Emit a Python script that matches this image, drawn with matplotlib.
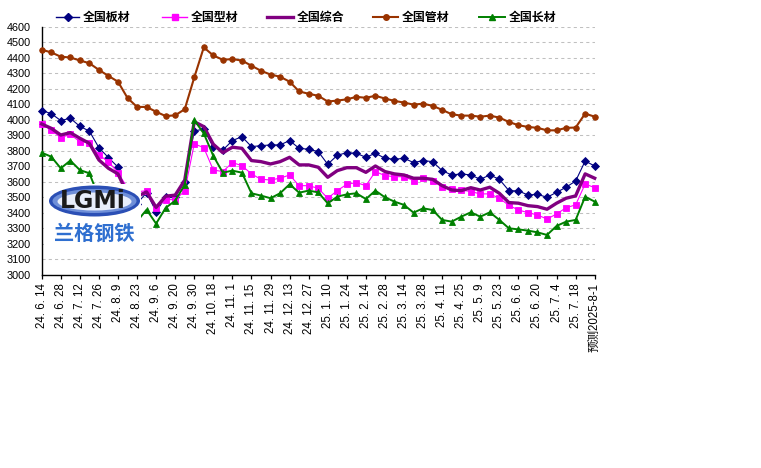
import matplotlib
matplotlib.use('Agg')
import matplotlib.pyplot as plt
import numpy as np
from matplotlib.patches import Ellipse, Rectangle

# ---------------- data ----------------
tick_labels = ['24. 6. 14', '24. 6. 28', '24. 7. 12', '24. 7. 26', '24. 8. 9', '24. 8. 23',
               '24. 9. 6', '24. 9. 20', '24. 9. 30', '24. 10. 18', '24. 11. 1', '24. 11. 15',
               '24. 11. 29', '24. 12. 13', '24. 12. 27', '25. 1. 10', '25. 1. 24', '25. 2. 14',
               '25. 2. 28', '25. 3. 14', '25. 3. 28', '25. 4. 11', '25. 4. 25', '25. 5. 9',
               '25. 5. 23', '25. 6. 6', '25. 6. 20', '25. 7. 4', '25. 7. 18', '预测2025-8-1']

board = [4060, 4040, 3995, 4010, 3958, 3927, 3820, 3756, 3695, 3480, 3460, 3530,
         3407, 3499, 3503, 3600, 3928, 3940, 3823, 3805, 3866, 3891, 3827, 3833,
         3838, 3838, 3866, 3816, 3810, 3795, 3713, 3771, 3788, 3784, 3758, 3784,
         3752, 3745, 3752, 3724, 3737, 3730, 3672, 3644, 3651, 3644, 3616, 3644,
         3616, 3543, 3541, 3515, 3519, 3500, 3532, 3565, 3605, 3734, 3702]

shape = [3973, 3934, 3885, 3906, 3859, 3853, 3773, 3730, 3659, 3560, 3535, 3543,
         3433, 3485, 3485, 3540, 3845, 3820, 3676, 3666, 3724, 3704, 3651, 3616,
         3612, 3623, 3644, 3575, 3575, 3558, 3494, 3543, 3584, 3595, 3575, 3666,
         3640, 3633, 3633, 3608, 3623, 3608, 3569, 3552, 3547, 3537, 3522, 3522,
         3494, 3448, 3418, 3401, 3386, 3360, 3392, 3433, 3451, 3586, 3562]

composite = [3973, 3945, 3902, 3917, 3881, 3848, 3741, 3687, 3651, 3520, 3505, 3535,
             3435, 3507, 3514, 3610, 3988, 3956, 3842, 3788, 3823, 3816, 3737, 3730,
             3715, 3730, 3758, 3709, 3709, 3694, 3629, 3672, 3691, 3691, 3661, 3702,
             3666, 3651, 3644, 3623, 3623, 3616, 3575, 3547, 3543, 3562, 3547, 3565,
             3526, 3466, 3462, 3446, 3440, 3423, 3462, 3494, 3509, 3651, 3623]

pipe = [4452, 4435, 4407, 4402, 4383, 4365, 4322, 4283, 4246, 4141, 4083, 4083,
        4052, 4024, 4029, 4068, 4273, 4467, 4415, 4387, 4392, 4382, 4349, 4316,
        4292, 4278, 4246, 4183, 4168, 4155, 4118, 4124, 4132, 4148, 4142, 4155,
        4137, 4122, 4111, 4098, 4104, 4090, 4064, 4036, 4027, 4027, 4020, 4027,
        4014, 3986, 3965, 3954, 3948, 3932, 3932, 3948, 3950, 4040, 4020]

long_ = [3788, 3762, 3687, 3737, 3676, 3655, 3500, 3440, 3390, 3365, 3345, 3420,
         3330, 3432, 3478, 3580, 3998, 3912, 3767, 3659, 3672, 3659, 3526, 3511,
         3494, 3526, 3584, 3530, 3543, 3532, 3461, 3504, 3519, 3526, 3489, 3543,
         3500, 3472, 3451, 3401, 3429, 3418, 3354, 3343, 3375, 3403, 3375, 3403,
         3354, 3300, 3293, 3285, 3274, 3257, 3315, 3343, 3354, 3504, 3472]

names = ['全国板材', '全国型材', '全国综合', '全国管材', '全国长材']

styles = [
    dict(color='#000080', lw=0.8, marker='D', ms=4.2),
    dict(color='#FF00FF', lw=0.8, marker='s', ms=4.6),
    dict(color='#800080', lw=2.4, marker=None, ms=0),
    dict(color='#993300', lw=1.5, marker='o', ms=4.0),
    dict(color='#008000', lw=1.4, marker='^', ms=5.0),
]
series = [board, shape, composite, pipe, long_]

# ---------------- figure ----------------
W, H = 761, 468
fig = plt.figure(figsize=(W / 100, H / 100), dpi=100)
fig.patch.set_facecolor('white')

ax_l, ax_r, ax_t, ax_b = 41.7, 594.7, 26.8, 274.8
ax = fig.add_axes([ax_l / W, 1 - ax_b / H, (ax_r - ax_l) / W, (ax_b - ax_t) / H])

x = np.arange(len(board))
for i, (vals, st) in enumerate(zip(series, styles)):
    ax.plot(x, vals, color=st['color'], lw=st['lw'], marker=st['marker'],
            ms=st['ms'], mfc=st['color'], mec=st['color'], mew=0.6,
            clip_on=False, zorder=3 + i, solid_joinstyle='round')

ax.set_xlim(0, len(board) - 1)
ax.set_ylim(3000, 4600)
ax.set_yticks(np.arange(3000, 4601, 100))
ax.set_xticks(np.arange(0, len(board), 2))
ax.set_xticklabels(tick_labels, rotation=90, fontsize=8.3,
                   fontfamily=['Liberation Sans', 'Noto Sans CJK SC'])
for lab in ax.get_yticklabels():
    lab.set_fontfamily('Liberation Sans')
    lab.set_fontsize(7.8)
ax.tick_params(axis='y', length=0, pad=8)
ax.tick_params(axis='x', length=3, width=0.9, pad=3, direction='out')

ax.grid(axis='y', color='#c0c0c0', lw=0.75, linestyle=(0, (3, 3)))
ax.set_axisbelow(True)
for s in ['top', 'right']:
    ax.spines[s].set_visible(False)
for s in ['left', 'bottom']:
    ax.spines[s].set_linewidth(1.0)
    ax.spines[s].set_color('black')

# ---------------- overlay: legend + logo ----------------
ov = fig.add_axes([0, 0, 1, 1])
ov.set_xlim(0, W)
ov.set_ylim(H, 0)
ov.axis('off')
ov.patch.set_alpha(0)

leg_items = [(56, 79), (162, 187), (267, 293), (373, 398), (479, 505)]
ly = 17
for (x0, x1), name, st in zip(leg_items, names, styles):
    ov.plot([x0, x1], [ly, ly], color=st['color'], lw=st['lw'] if st['lw'] > 1 else 1.0)
    if st['marker']:
        ov.plot([(x0 + x1) / 2], [ly], marker=st['marker'], ms=st['ms'],
                color=st['color'], mec=st['color'])
    ov.text(x1 + 4, ly, name, fontsize=8.6, fontweight='bold', va='center', ha='left',
            family=['Noto Sans CJK SC', 'DejaVu Sans'], color='black')

# logo (white box covering part of the plot)
ov.add_patch(Rectangle((44, 184), 97, 66, fc='white', ec='none', zorder=10))
ov.add_patch(Ellipse((94.5, 201), 91, 31, fc='#2b4fb5', ec='none', zorder=11))
ov.add_patch(Ellipse((94.5, 201), 84, 24, fc='#6f8fd8', ec='none', zorder=11))
ov.add_patch(Ellipse((94.5, 201.5), 74, 18, fc='#e8eefb', ec='none', zorder=11))
ov.text(93, 201, 'LGMi', fontsize=17, fontweight='bold', color='#1a1a1a',
        ha='center', va='center', family='DejaVu Sans', zorder=12)
ov.text(94, 233, '兰格钢铁', fontsize=14.5, fontweight='bold', color='#2f6fd0',
        ha='center', va='center', family=['Noto Sans CJK SC', 'DejaVu Sans'], zorder=12)

fig.savefig('out.png', dpi=100, facecolor='white')
